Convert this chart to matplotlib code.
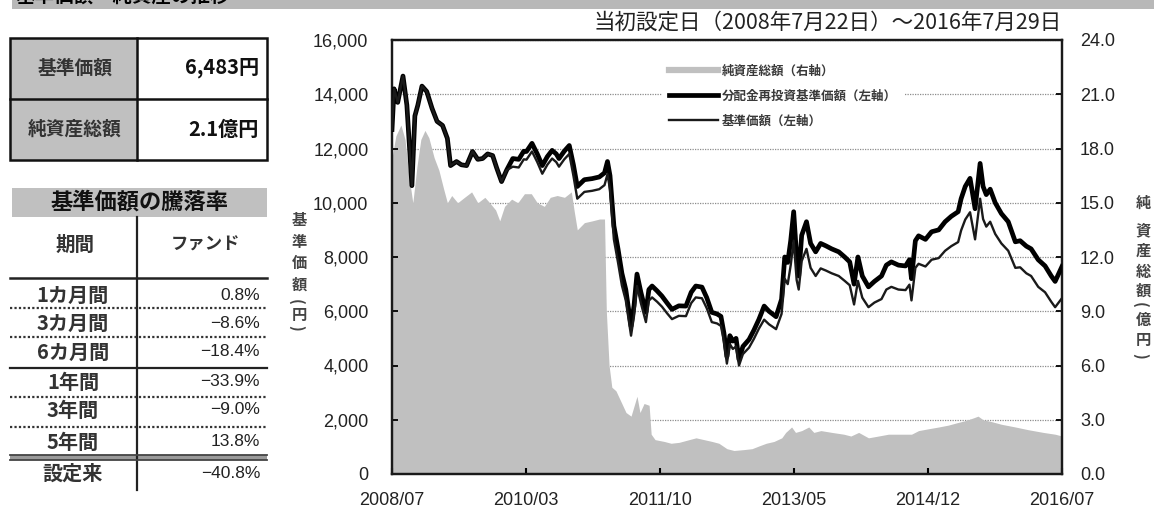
import matplotlib
matplotlib.use('Agg')
import matplotlib.pyplot as plt
import matplotlib.dates as mdates
from matplotlib.lines import Line2D
from matplotlib.patches import Rectangle
import numpy as np
import pandas as pd

plt.rcParams['font.family'] = ['Noto Sans CJK JP', 'DejaVu Sans']

# ---------------- data ----------------
price_dates = [
    '2008-07-22', '2008-07-31', '2008-08-16', '2008-09-08', '2008-09-25', '2008-10-17', '2008-10-30', '2008-11-12', '2008-11-30', '2008-12-21',
    '2009-01-13', '2009-02-04', '2009-02-28', '2009-03-21', '2009-04-04', '2009-04-30', '2009-05-21', '2009-06-13', '2009-07-09', '2009-08-01',
    '2009-08-22', '2009-09-13', '2009-10-05', '2009-10-22', '2009-11-13', '2009-12-05', '2010-01-01', '2010-01-27', '2010-02-18', '2010-03-02',
    '2010-03-26', '2010-04-18', '2010-05-10', '2010-06-01', '2010-06-22', '2010-07-10', '2010-07-22', '2010-08-14', '2010-09-05', '2010-09-23',
    '2010-10-10', '2010-11-10', '2010-12-14', '2011-01-14', '2011-02-06', '2011-02-19', '2011-03-02', '2011-03-10', '2011-03-19', '2011-04-06',
    '2011-04-23', '2011-05-10', '2011-06-02', '2011-06-15', '2011-06-28', '2011-07-15', '2011-08-06', '2011-08-19', '2011-09-02', '2011-09-24',
    '2011-10-15', '2011-11-07', '2011-11-28', '2011-12-28', '2012-01-28', '2012-02-20', '2012-03-11', '2012-04-07', '2012-04-28', '2012-05-20',
    '2012-06-12', '2012-06-29', '2012-07-12', '2012-07-25', '2012-08-07', '2012-08-20', '2012-09-03', '2012-09-16', '2012-10-03', '2012-10-30',
    '2012-11-20', '2012-12-12', '2013-01-04', '2013-01-25', '2013-02-25', '2013-03-21', '2013-04-04', '2013-04-17', '2013-04-30', '2013-05-13',
    '2013-05-26', '2013-06-04', '2013-06-17', '2013-07-08', '2013-07-26', '2013-08-17', '2013-09-08', '2013-10-01', '2013-10-26', '2013-11-26',
    '2013-12-22', '2014-01-13', '2014-02-01', '2014-02-18', '2014-03-09', '2014-04-05', '2014-05-01', '2014-06-01', '2014-06-22', '2014-07-14',
    '2014-08-14', '2014-09-14', '2014-10-01', '2014-10-10', '2014-10-27', '2014-11-10', '2014-12-10', '2015-01-06', '2015-02-06', '2015-03-06',
    '2015-04-02', '2015-05-02', '2015-05-15', '2015-06-02', '2015-06-23', '2015-07-15', '2015-08-06', '2015-08-19', '2015-09-02', '2015-09-19',
    '2015-10-11', '2015-11-07', '2015-12-07', '2016-01-07', '2016-01-28', '2016-02-24', '2016-03-16', '2016-04-16', '2016-05-16', '2016-06-12',
    '2016-06-29', '2016-07-29']

reinvest_nav = [
    12700, 14200, 13700, 14670, 13600, 10630, 13200, 13600, 14300, 14100,
    13480, 13000, 12850, 12370, 11370, 11520, 11400, 11370, 11890, 11600,
    11630, 11800, 11740, 11300, 10780, 11200, 11630, 11600, 11900, 11890,
    12190, 11800, 11370, 11700, 11930, 11800, 11630, 11900, 12110, 11400,
    10600, 10850, 10890, 10950, 11100, 11520, 11000, 10150, 9150, 8300,
    7400, 6800, 5450, 6200, 7370, 6700, 5960, 6800, 6930, 6750,
    6560, 6300, 6070, 6200, 6190, 6700, 6930, 6890, 6500, 5960,
    5900, 5810, 5200, 4330, 5100, 4900, 5000, 4220, 4700, 4960,
    5300, 5700, 6190, 6000, 5800, 6440, 8000, 7800, 8600, 9670,
    8000, 7300, 8800, 9300, 8500, 8190, 8500, 8410, 8300, 8190,
    8000, 7820, 7000, 8000, 7300, 6900, 7100, 7300, 7700, 7820,
    7700, 7670, 7900, 7200, 8600, 8780, 8650, 8930, 9000, 9300,
    9500, 9670, 10150, 10600, 10900, 9780, 11450, 10600, 10300, 10500,
    10000, 9600, 9300, 8560, 8600, 8400, 8300, 7900, 7670, 7300,
    7100, 7650]

base_nav = [
    12700, 14200, 13700, 14670, 13600, 10630, 13200, 13600, 14300, 14100,
    13480, 13000, 12850, 12370, 11370, 11520, 11400, 11370, 11890, 11600,
    11630, 11800, 11740, 11300, 10780, 11200, 11330, 11300, 11600, 11590,
    11890, 11500, 11070, 11400, 11630, 11500, 11330, 11600, 11800, 11000,
    10150, 10400, 10440, 10500, 10650, 11050, 10500, 9650, 8650, 7800,
    6950, 6400, 5100, 5830, 6930, 6300, 5600, 6390, 6510, 6350,
    6170, 5920, 5710, 5830, 5820, 6300, 6510, 6480, 6110, 5600,
    5550, 5460, 4890, 4070, 4790, 4610, 4700, 4000, 4420, 4660,
    4980, 5360, 5690, 5520, 5340, 5900, 7200, 7000, 7700, 8600,
    7150, 6800, 7850, 8300, 7600, 7300, 7580, 7500, 7400, 7300,
    7120, 6960, 6250, 7120, 6500, 6150, 6320, 6450, 6800, 6900,
    6800, 6780, 6980, 6400, 7600, 7750, 7650, 7900, 7960, 8230,
    8400, 8550, 8980, 9380, 9650, 8650, 10150, 9400, 9120, 9300,
    8850, 8500, 8230, 7600, 7620, 7400, 7300, 6900, 6700, 6350,
    6150, 6483]

asset_dates = [
    '2008-07-22', '2008-08-08', '2008-08-30', '2008-09-17', '2008-10-04', '2008-10-21', '2008-11-08', '2008-11-25', '2008-12-13', '2008-12-30',
    '2009-01-22', '2009-02-12', '2009-03-04', '2009-03-21', '2009-04-09', '2009-05-05', '2009-06-04', '2009-07-05', '2009-08-01', '2009-09-01',
    '2009-09-22', '2009-10-18', '2009-11-05', '2009-11-26', '2009-12-27', '2010-01-23', '2010-02-21', '2010-03-23', '2010-04-18', '2010-05-19',
    '2010-06-14', '2010-07-14', '2010-08-15', '2010-09-14', '2010-09-27', '2010-10-10', '2010-11-10', '2010-12-15', '2011-01-15', '2011-02-06',
    '2011-02-14', '2011-02-26', '2011-03-10', '2011-03-28', '2011-04-19', '2011-05-11', '2011-06-02', '2011-06-28', '2011-07-11', '2011-07-29',
    '2011-08-20', '2011-08-29', '2011-09-15', '2011-10-25', '2011-11-24', '2011-12-29', '2012-02-11', '2012-03-12', '2012-04-16', '2012-05-21',
    '2012-06-20', '2012-07-25', '2012-08-25', '2012-10-08', '2012-11-12', '2012-12-12', '2013-01-13', '2013-02-16', '2013-03-22', '2013-04-08',
    '2013-05-04', '2013-05-21', '2013-06-17', '2013-07-18', '2013-08-09', '2013-09-09', '2013-10-27', '2013-12-18', '2014-01-18', '2014-02-21',
    '2014-04-05', '2014-05-19', '2014-07-01', '2014-08-14', '2014-10-10', '2014-11-10', '2014-12-23', '2015-02-06', '2015-03-19', '2015-05-02',
    '2015-06-02', '2015-07-07', '2015-07-28', '2015-08-19', '2015-09-24', '2015-11-07', '2016-01-07', '2016-03-03', '2016-05-08', '2016-06-29',
    '2016-07-29']

net_assets = [
    17.5, 18.7, 19.3, 18.5, 16.5, 15.0, 17.0, 18.5, 19.0, 18.6,
    17.5, 16.8, 15.8, 15.0, 15.4, 15.0, 15.3, 15.6, 15.0, 15.3,
    15.0, 14.6, 14.0, 14.8, 15.2, 15.0, 15.5, 15.5, 15.0, 14.8,
    15.3, 15.4, 15.3, 15.6, 14.5, 13.5, 13.9, 14.0, 14.1, 14.1,
    9.0, 6.0, 4.8, 4.6, 4.0, 3.4, 3.2, 4.3, 3.4, 3.9,
    3.8, 2.2, 1.9, 1.8, 1.7, 1.75, 1.9, 2.0, 1.9, 1.8,
    1.7, 1.4, 1.3, 1.35, 1.4, 1.55, 1.7, 1.8, 2.0, 2.3,
    2.6, 2.3, 2.4, 2.6, 2.3, 2.4, 2.3, 2.2, 2.1, 2.3,
    2.0, 2.1, 2.2, 2.2, 2.2, 2.4, 2.5, 2.6, 2.7, 2.85,
    2.95, 3.1, 3.2, 3.0, 2.9, 2.75, 2.6, 2.45, 2.3, 2.2,
    2.1]

period_start = '2008-07-22'
period_end = '2016-07-29'
xtick_labels = ['2008/07', '2010/03', '2011/10', '2013/05', '2014/12', '2016/07']
left_ticks = [0, 2000, 4000, 6000, 8000, 10000, 12000, 14000, 16000]
right_ticks = [0.0, 3.0, 6.0, 9.0, 12.0, 15.0, 18.0, 21.0, 24.0]

legend_labels = ['純資産総額（右軸）', '分配金再投資基準価額（左軸）', '基準価額（左軸）']
chart_title = '当初設定日（2008年7月22日）～2016年7月29日'
left_axis_label = ['基', '準', '価', '額', '(', '円', ')']
right_axis_label = ['純', '資', '産', '総', '額', '(', '億', '円', ')']
section_title = '基準価額・純資産の推移'

summary_labels = ['基準価額', '純資産総額']
summary_values = ['6,483円', '2.1億円']
returns_title = '基準価額の騰落率'
returns_header = ['期間', 'ファンド']
period_labels = ['1カ月間', '3カ月間', '6カ月間', '1年間', '3年間', '5年間', '設定来']
period_returns = [0.8, -8.6, -18.4, -33.9, -9.0, 13.8, -40.8]

# ---------------- figure ----------------
W, H = 1154, 508
fig = plt.figure(figsize=(W / 100, H / 100), dpi=100)
fig.patch.set_facecolor('white')

bg = fig.add_axes([0, 0, 1, 1])
bg.set_xlim(0, W)
bg.set_ylim(H, 0)
bg.axis('off')
bg.set_zorder(0)

GRAY = '#c0c0c0'
TXT = '#222222'

# top banner (title text is cut by the top edge, as in the source)
bg.add_patch(Rectangle((12, 0), W - 12, 9, facecolor='#b8b8b8', edgecolor='none'))
bg.text(16, -4, section_title, fontsize=14, fontweight='bold', va='center', ha='left', clip_on=False)

# summary table
bg.add_patch(Rectangle((10, 38), 127, 122, facecolor=GRAY, edgecolor='none'))
bg.add_patch(Rectangle((10, 38), 257, 122, facecolor='none', edgecolor='#111111', lw=1.8))
bg.plot([10, 267], [99, 99], color='#111111', lw=1.8)
bg.plot([137, 137], [38, 160], color='#111111', lw=1.8)
for i, (lab, val) in enumerate(zip(summary_labels, summary_values)):
    yc = 68 + i * 61
    bg.text(75, yc, lab, fontsize=13.5, fontweight='bold', ha='center', va='center', color='#333333')
    bg.text(259, yc, val, fontsize=14.5, fontweight='bold', ha='right', va='center', color='#111111')

# returns table
bg.add_patch(Rectangle((12, 188), 255, 29, facecolor=GRAY, edgecolor='none'))
bg.text(139, 202, returns_title, fontsize=16, fontweight='bold', ha='center', va='center', color='#111111')
bg.plot([137, 137], [217, 490], color='#222222', lw=1.6)
bg.text(75, 245, returns_header[0], fontsize=14, fontweight='bold', ha='center', va='center', color='#333333')
bg.text(205, 245, returns_header[1], fontsize=12.5, fontweight='bold', ha='center', va='center', color='#333333')
bg.plot([10, 267], [278, 278], color='#222222', lw=1.8)
row_y = [295, 323, 352, 382, 410, 442, 473]
sep_y = [308, 337, 368, 397, 427]
sep_style = [':', ':', '-', ':', ':']
for yy, st in zip(sep_y, sep_style):
    if st == '-':
        bg.plot([10, 267], [yy, yy], color='#222222', lw=1.6)
    else:
        bg.plot([10, 267], [yy, yy], color='#333333', lw=1.6, linestyle=(0, (1, 1)))
bg.add_patch(Rectangle((10, 455), 257, 5, facecolor='#9a9a9a', edgecolor='none'))
bg.plot([10, 267], [455, 455], color='#444444', lw=1.3)
bg.plot([10, 267], [460, 460], color='#444444', lw=1.3)
for yy, lab, val in zip(row_y, period_labels, period_returns):
    bg.text(73, yy, lab, fontsize=14.5, fontweight='bold', ha='center', va='center', color='#333333')
    txt = f'{val:.1f}%'.replace('-', '−')
    bg.text(260, yy, txt, fontsize=12.5, ha='right', va='center', color=TXT,
            family=['Liberation Sans', 'DejaVu Sans'])

# title and axis labels
bg.text(1062, 23, chart_title, fontsize=15.5, ha='right', va='center', color=TXT)
left_label_y = [220, 242, 263, 285, 302, 315, 328]
for ch, yy in zip(left_axis_label, left_label_y):
    is_paren = ch in '()'
    bg.text(299 - (3 if is_paren else 0), yy, ch, fontsize=11, fontweight='bold', ha='center',
            va='center', color='#444444', rotation=-90 if is_paren else 0)
right_label_y = [203, 230, 251, 272, 291, 305, 320, 340, 356]
for ch, yy in zip(right_axis_label, right_label_y):
    is_paren = ch in '()'
    bg.text(1143 - (3 if is_paren else 0), yy, ch, fontsize=11, fontweight='bold', ha='center',
            va='center', color='#444444', rotation=-90 if is_paren else 0)

# ---------------- chart ----------------
L, R_, T, B_ = 392, 1062, 40, 474
ax = fig.add_axes([L / W, 1 - B_ / H, (R_ - L) / W, (B_ - T) / H])
ax2 = ax.twinx()
ax.set_zorder(3)
ax2.set_zorder(2)
ax.patch.set_visible(False)
ax2.patch.set_visible(True)
ax2.patch.set_facecolor('white')

pdates = pd.to_datetime(price_dates)
adates = pd.to_datetime(asset_dates)
x0 = pd.Timestamp(period_start)
x1 = pd.Timestamp(period_end)

ax2.fill_between(adates, 0, net_assets, color=GRAY, linewidth=0, zorder=1)
ax2.set_ylim(0, 24)
ax2.set_yticks(right_ticks)
ax2.set_yticklabels([f'{v:.1f}' for v in right_ticks])
ax2.set_axisbelow(True)
ax2.grid(axis='y', color='#8c8c8c', linestyle=(0, (1, 1)), linewidth=0.9)
ax2.tick_params(axis='y', direction='in', length=4, width=1.3, pad=13, labelsize=13,
                labelfontfamily='Liberation Sans', labelcolor=TXT)

ax.plot(pdates, reinvest_nav, color='black', lw=3.4, solid_joinstyle='round', zorder=3)
ax.plot(pdates, base_nav, color='#1a1a1a', lw=1.7, solid_joinstyle='round', zorder=4)
ax.set_ylim(0, 16000)
ax.set_yticks(left_ticks)
ax.set_yticklabels([f'{v:,}' for v in left_ticks])
ax.set_xlim(x0, x1)
xt = np.linspace(mdates.date2num(x0), mdates.date2num(x1), len(xtick_labels))
ax.set_xticks(xt)
ax.set_xticklabels(xtick_labels)
ax.tick_params(axis='y', direction='in', length=4, width=1.3, pad=17, labelsize=13,
               labelfontfamily='Liberation Sans', labelcolor=TXT)
ax.tick_params(axis='x', direction='in', length=4, width=1.5, pad=13, labelsize=13,
               labelfontfamily='Liberation Sans', labelcolor=TXT)
for a in (ax, ax2):
    for s in a.spines.values():
        s.set_color('#1a1a1a')
        s.set_linewidth(1.6)

handles = [Line2D([0], [0], color=GRAY, lw=4.5),
           Line2D([0], [0], color='black', lw=3.4),
           Line2D([0], [0], color='#1a1a1a', lw=1.7)]
leg = ax.legend(handles, legend_labels, loc='upper left', bbox_to_anchor=(0.393, 0.975),
                prop={'size': 9, 'weight': 'bold'}, frameon=True, facecolor='white',
                edgecolor='none', framealpha=1, handlelength=3.9, handletextpad=0.35,
                labelspacing=0.95, borderpad=0.6, fancybox=False)
for t in leg.get_texts():
    t.set_color('#3a3a3a')

fig.savefig('out.png', dpi=100, facecolor='white')
